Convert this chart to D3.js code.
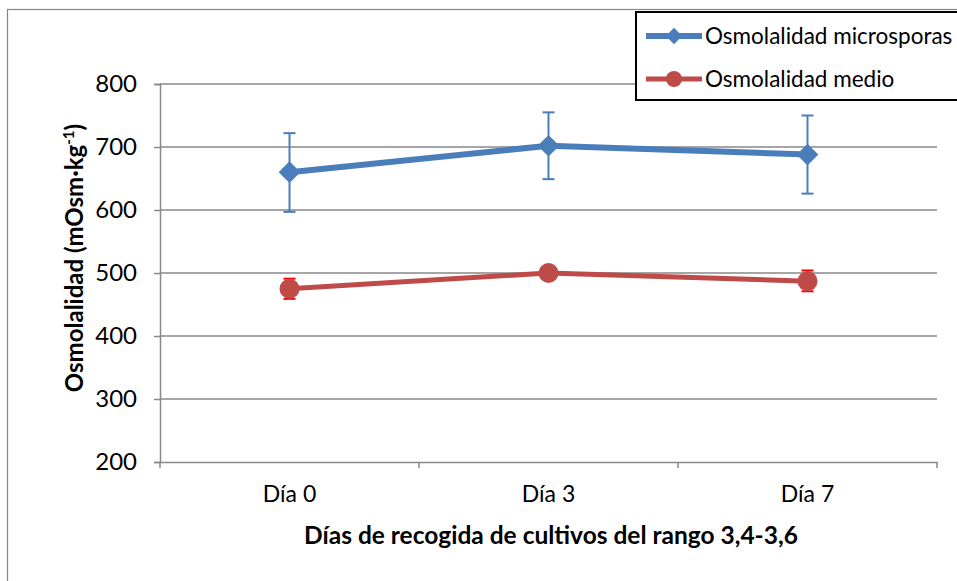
<!DOCTYPE html>
<html><head><meta charset="utf-8">
<script src="https://cdn.jsdelivr.net/npm/d3@7"></script>
<style>body{margin:0;background:#fff;} text{font-family:Lato,"Open Sans",sans-serif;}</style>
</head><body>
<svg id="c" width="957" height="581"></svg>
<script>
const categories = ["Día 0", "Día 3", "Día 7"];
const microMean = [660, 702, 688];
const microLow = [597, 649, 626];
const microHigh = [722, 755, 750];
const medioMean = [475, 500, 487];
const medioLow = [459, 492, 471];
const medioHigh = [491, 508, 504];
const yTicks = [200, 300, 400, 500, 600, 700, 800];
const seriesNames = ["Osmolalidad microsporas", "Osmolalidad medio"];

const svg = d3.select("#c");
const L = 160, R = 937, T = 84, B = 462;
const x = d3.scaleBand().domain(categories).range([L, R]);
const y = d3.scaleLinear().domain([200, 800]).range([B, T]);

// outer frame
svg.append("rect").attr("x", 7.5).attr("y", 9.5).attr("width", 960).attr("height", 580)
  .attr("fill", "none").attr("stroke", "#868686").attr("stroke-width", 1.2);

// gridlines
svg.append("g").selectAll("line").data(yTicks.filter(d => d > 200)).join("line")
  .attr("x1", L).attr("x2", R).attr("y1", d => y(d)).attr("y2", d => y(d))
  .attr("stroke", "#888").attr("stroke-width", 1.5);

// y axis
const ya = svg.append("g").attr("transform", `translate(${L},0)`)
  .call(d3.axisLeft(y).tickValues(yTicks).tickSize(6).tickPadding(17));
ya.select(".domain").attr("stroke", "#888").attr("stroke-width", 1.5);
ya.selectAll(".tick line").attr("stroke", "#888").attr("stroke-width", 1.5);
ya.selectAll("text").attr("font-size", 24).attr("fill", "#000").attr("font-family", "Lato");

// x axis
const xa = svg.append("g").attr("transform", `translate(0,${B})`)
  .call(d3.axisBottom(x).tickSize(0).tickPadding(24));
xa.select(".domain").attr("stroke", "#888").attr("stroke-width", 1.5);
xa.selectAll("text").attr("font-size", 23).attr("fill", "#000").attr("font-family", "Lato");
const bounds = [L].concat(categories.map(c => x(c) + x.bandwidth()));
svg.append("g").selectAll("line").data(bounds).join("line")
  .attr("x1", d => d).attr("x2", d => d).attr("y1", B).attr("y2", B + 6)
  .attr("stroke", "#888").attr("stroke-width", 1.5);

const cx = c => x(c) + x.bandwidth() / 2;
const blue = "#4A7EBB", red = "#BE4B48";

// error bars
function errBars(low, high, color) {
  const g = svg.append("g");
  categories.forEach((c, i) => {
    g.append("line").attr("x1", cx(c)).attr("x2", cx(c)).attr("y1", y(low[i])).attr("y2", y(high[i]))
      .attr("stroke", color).attr("stroke-width", 2);
    [low[i], high[i]].forEach(v => g.append("line").attr("x1", cx(c) - 6).attr("x2", cx(c) + 6)
      .attr("y1", y(v)).attr("y2", y(v)).attr("stroke", color).attr("stroke-width", 2));
  });
}
errBars(medioLow, medioHigh, "#FF0000");
errBars(microLow, microHigh, blue);

const line = d3.line().x((d, i) => cx(categories[i])).y(d => y(d));
svg.append("path").datum(microMean).attr("d", line).attr("fill", "none").attr("stroke", blue).attr("stroke-width", 6);
svg.append("path").datum(medioMean).attr("d", line).attr("fill", "none").attr("stroke", red).attr("stroke-width", 5);

const diamond = d3.symbol().type(d3.symbolDiamond2).size(300);
svg.append("g").selectAll("path").data(microMean).join("path")
  .attr("d", diamond).attr("transform", (d, i) => `translate(${cx(categories[i])},${y(d)})`).attr("fill", blue);
svg.append("g").selectAll("circle").data(medioMean).join("circle")
  .attr("cx", (d, i) => cx(categories[i])).attr("cy", d => y(d)).attr("r", 10).attr("fill", red);

// axis titles
svg.append("text").attr("x", 551).attr("y", 544).attr("text-anchor", "middle")
  .attr("font-size", 24.5).attr("font-weight", "bold").text("Días de recogida de cultivos del rango 3,4-3,6");
const yt = svg.append("text").attr("transform", "translate(83,258) rotate(-90)").attr("text-anchor", "middle")
  .attr("font-size", 24).attr("font-weight", "bold");
yt.append("tspan").text("Osmolalidad (mOsm·kg");
yt.append("tspan").attr("font-size", 15).attr("dy", -9).text("-1");
yt.append("tspan").attr("dy", 9).text(")");

// legend
svg.append("rect").attr("x", 636).attr("y", 12).attr("width", 330).attr("height", 88)
  .attr("fill", "#fff").attr("stroke", "#000").attr("stroke-width", 2);
const leg = [{n: seriesNames[0], c: blue, s: "d", w: 6}, {n: seriesNames[1], c: red, s: "c", w: 5}];
leg.forEach((d, i) => {
  const ly = 36 + i * 43;
  svg.append("line").attr("x1", 646).attr("x2", 702).attr("y1", ly).attr("y2", ly).attr("stroke", d.c).attr("stroke-width", d.w);
  if (d.s === "d") svg.append("path").attr("d", d3.symbol().type(d3.symbolDiamond2).size(170)).attr("transform", `translate(674,${ly})`).attr("fill", d.c);
  else svg.append("circle").attr("cx", 674).attr("cy", ly).attr("r", 8).attr("fill", d.c);
  svg.append("text").attr("x", 705).attr("y", ly + 8).attr("font-size", 22.5).text(d.n);
});
</script>
</body></html>
